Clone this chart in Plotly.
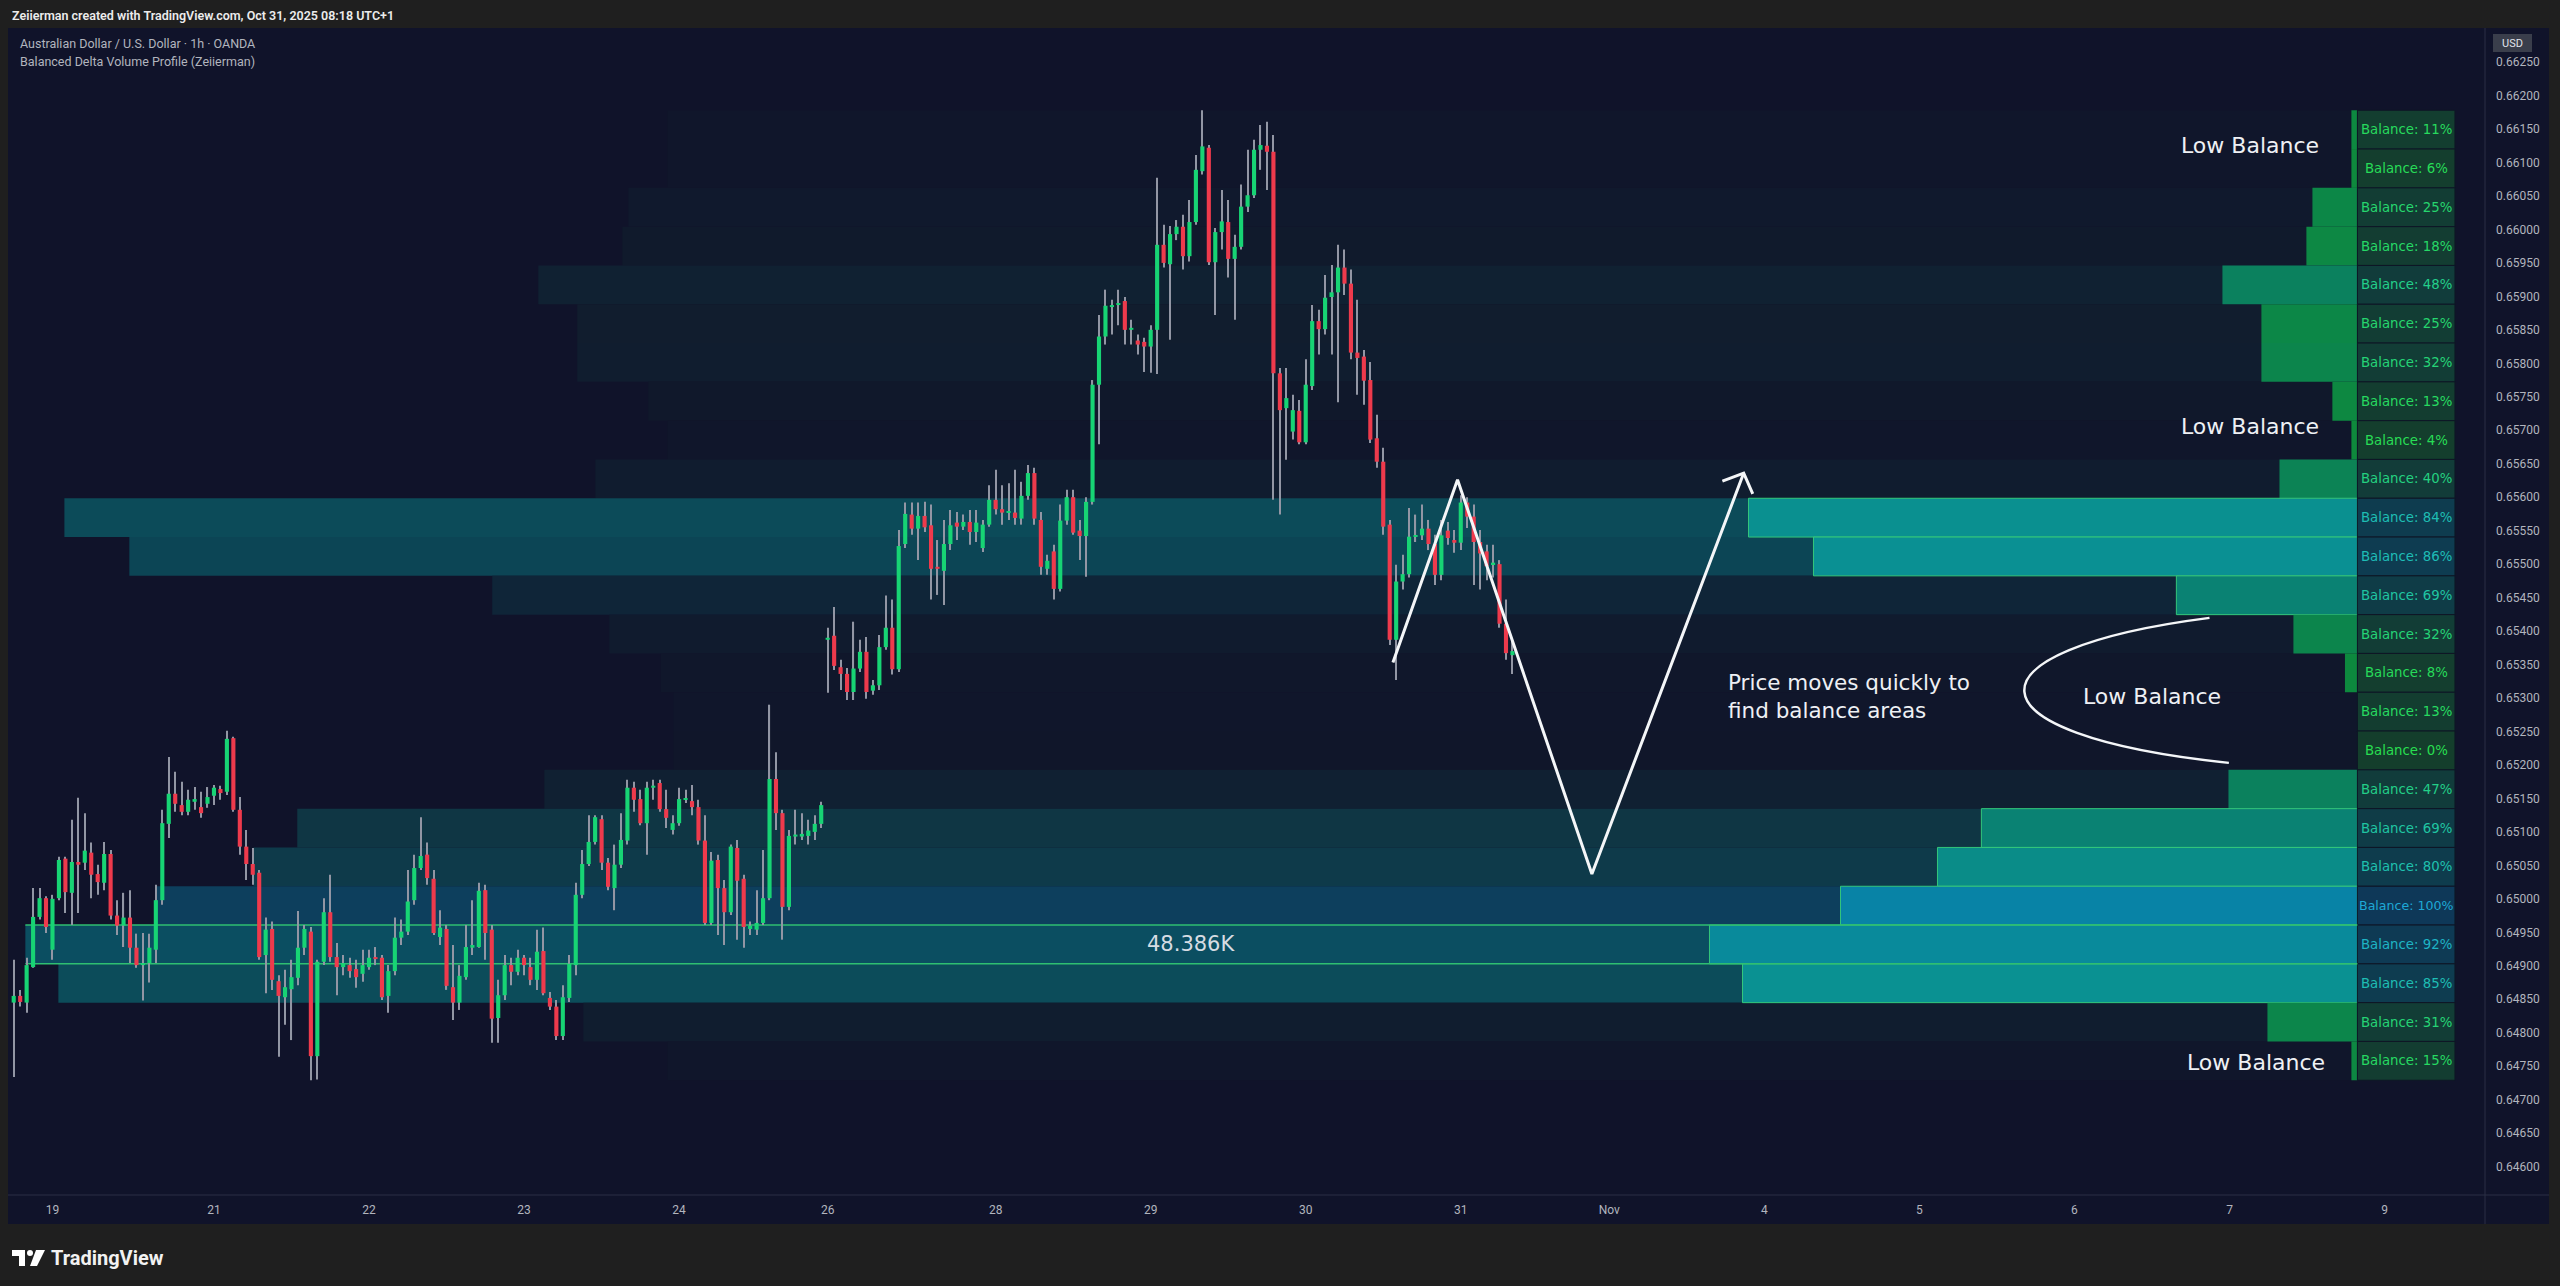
import plotly.graph_objects as go

# ---------------- DATA (AUD/USD 1h) ----------------
opens = [
    0.64845, 0.64855, 0.64845, 0.64898, 0.64973, 0.65001, 0.64924, 0.65001, 0.65060, 0.65009,
    0.65055, 0.65054, 0.65069, 0.65037, 0.65024, 0.65067, 0.64975, 0.64960, 0.64972, 0.64927,
    0.64901, 0.64904, 0.64924, 0.64998, 0.65112, 0.65157, 0.65140, 0.65130, 0.65145, 0.65137,
    0.65142, 0.65154, 0.65164, 0.65160, 0.65240, 0.65133, 0.65078, 0.65052, 0.65039, 0.64916,
    0.64955, 0.64877, 0.64853, 0.64865, 0.64882, 0.64927, 0.64951, 0.64765, 0.64906, 0.64980,
    0.64913, 0.64898, 0.64901, 0.64895, 0.64888, 0.64898, 0.64913, 0.64912, 0.64855, 0.64892,
    0.64942, 0.64951, 0.64998, 0.65046, 0.65066, 0.65030, 0.64943, 0.64955, 0.64868, 0.64845,
    0.64883, 0.64927, 0.64928, 0.65013, 0.64954, 0.64822, 0.64856, 0.64901, 0.64891, 0.64912,
    0.64898, 0.64879, 0.64922, 0.64852, 0.64839, 0.64795, 0.64852, 0.64901, 0.65006, 0.65052,
    0.65085, 0.65119, 0.65054, 0.65016, 0.65051, 0.65087, 0.65166, 0.65149, 0.65113, 0.65166,
    0.65173, 0.65134, 0.65103, 0.65113, 0.65148, 0.65146, 0.65137, 0.65087, 0.64964, 0.65058,
    0.65016, 0.64980, 0.65076, 0.65030, 0.64955, 0.64954, 0.64964, 0.65001, 0.65179, 0.65128,
    0.64988, 0.65093, 0.65093, 0.65094, 0.65100, 0.65112,
    0.65387, 0.65393, 0.65346, 0.65336, 0.65309, 0.65344, 0.65369, 0.65311, 0.65319, 0.65376,
    0.65405, 0.65343, 0.65530, 0.65574, 0.65553, 0.65572, 0.65558, 0.65496, 0.65490, 0.65530,
    0.65562, 0.65556, 0.65563, 0.65548, 0.65524, 0.65559, 0.65596, 0.65582, 0.65577, 0.65577,
    0.65568, 0.65602, 0.65636, 0.65566, 0.65493, 0.65519, 0.65463, 0.65565, 0.65600, 0.65550,
    0.65542, 0.65593, 0.65768, 0.65840, 0.65884, 0.65887, 0.65893, 0.65850, 0.65834, 0.65832,
    0.65825, 0.65850, 0.65977, 0.65948, 0.65993, 0.66004, 0.65960, 0.66011, 0.66087, 0.66122,
    0.65951, 0.65996, 0.66011, 0.65956, 0.65974, 0.66034, 0.66051, 0.66119, 0.66125, 0.66116,
    0.65785, 0.65733, 0.65698, 0.65729, 0.65682, 0.65766, 0.65863, 0.65851, 0.65899, 0.65906,
    0.65943, 0.65919, 0.65816, 0.65810, 0.65775, 0.65688, 0.65653, 0.65559, 0.65387, 0.65474,
    0.65485, 0.65541, 0.65543, 0.65553, 0.65530, 0.65484, 0.65550, 0.65536, 0.65532, 0.65592,
    0.65571, 0.65533, 0.65519, 0.65500, 0.65500, 0.65411, 0.65364,
]
highs = [
    0.64909, 0.64864, 0.64912, 0.65016, 0.65016, 0.65004, 0.65006, 0.65063, 0.65063, 0.65118,
    0.65151, 0.65128, 0.65084, 0.65051, 0.65085, 0.65073, 0.64998, 0.65009, 0.65013, 0.64948,
    0.64949, 0.64948, 0.65021, 0.65133, 0.65212, 0.65190, 0.65175, 0.65163, 0.65167, 0.65160,
    0.65167, 0.65170, 0.65169, 0.65251, 0.65242, 0.65152, 0.65103, 0.65076, 0.65043, 0.64972,
    0.64966, 0.64886, 0.64894, 0.64909, 0.64982, 0.64961, 0.64958, 0.64909, 0.65001, 0.65036,
    0.64934, 0.64916, 0.64912, 0.64909, 0.64924, 0.64924, 0.64928, 0.64916, 0.64901, 0.64972,
    0.64969, 0.65043, 0.65066, 0.65122, 0.65084, 0.65043, 0.64983, 0.64961, 0.64931, 0.64901,
    0.64961, 0.64998, 0.65024, 0.65021, 0.64961, 0.64879, 0.64916, 0.64912, 0.64924, 0.64916,
    0.64912, 0.64954, 0.64957, 0.64861, 0.64849, 0.64871, 0.64916, 0.65024, 0.65073, 0.65125,
    0.65125, 0.65125, 0.65061, 0.65081, 0.65128, 0.65178, 0.65175, 0.65163, 0.65175, 0.65178,
    0.65178, 0.65163, 0.65125, 0.65166, 0.65163, 0.65170, 0.65148, 0.65125, 0.65070, 0.65066,
    0.65028, 0.65081, 0.65088, 0.65036, 0.64966, 0.65013, 0.65073, 0.65290, 0.65219, 0.65133,
    0.65103, 0.65133, 0.65128, 0.65118, 0.65125, 0.65145,
    0.65405, 0.65436, 0.65357, 0.65345, 0.65414, 0.65387, 0.65391, 0.65327, 0.65394, 0.65453,
    0.65447, 0.65551, 0.65592, 0.65592, 0.65592, 0.65593, 0.65589, 0.65536, 0.65566, 0.65581,
    0.65578, 0.65574, 0.65581, 0.65581, 0.65566, 0.65618, 0.65641, 0.65618, 0.65621, 0.65641,
    0.65623, 0.65648, 0.65644, 0.65578, 0.65514, 0.65529, 0.65589, 0.65611, 0.65611, 0.65566,
    0.65600, 0.65775, 0.65872, 0.65910, 0.65895, 0.65910, 0.65899, 0.65865, 0.65843, 0.65838,
    0.65857, 0.66077, 0.66007, 0.66005, 0.66014, 0.66022, 0.66044, 0.66111, 0.66178, 0.66126,
    0.66002, 0.66059, 0.66044, 0.65992, 0.66067, 0.66119, 0.66134, 0.66156, 0.66161, 0.66141,
    0.65793, 0.65793, 0.65753, 0.65745, 0.65806, 0.65887, 0.65880, 0.65932, 0.65947, 0.65977,
    0.65970, 0.65940, 0.65895, 0.65820, 0.65802, 0.65723, 0.65674, 0.65566, 0.65499, 0.65514,
    0.65584, 0.65574, 0.65589, 0.65566, 0.65544, 0.65566, 0.65563, 0.65551, 0.65603, 0.65600,
    0.65589, 0.65551, 0.65529, 0.65529, 0.65506, 0.65447, 0.65387,
]
lows = [
    0.64734, 0.64839, 0.64830, 0.64897, 0.64969, 0.64949, 0.64909, 0.64998, 0.64979, 0.64961,
    0.64979, 0.65043, 0.65001, 0.65006, 0.65013, 0.64969, 0.64946, 0.64928, 0.64904, 0.64897,
    0.64848, 0.64875, 0.64904, 0.64991, 0.65091, 0.65130, 0.65125, 0.65125, 0.65133, 0.65121,
    0.65136, 0.65140, 0.65148, 0.65155, 0.65130, 0.65066, 0.65028, 0.65021, 0.64909, 0.64859,
    0.64864, 0.64764, 0.64812, 0.64789, 0.64871, 0.64916, 0.64729, 0.64730, 0.64901, 0.64906,
    0.64856, 0.64886, 0.64882, 0.64867, 0.64876, 0.64894, 0.64901, 0.64849, 0.64830, 0.64886,
    0.64931, 0.64946, 0.64991, 0.65043, 0.65021, 0.64946, 0.64931, 0.64864, 0.64819, 0.64834,
    0.64879, 0.64916, 0.64927, 0.64909, 0.64785, 0.64785, 0.64849, 0.64871, 0.64886, 0.64886,
    0.64871, 0.64864, 0.64856, 0.64834, 0.64789, 0.64789, 0.64846, 0.64886, 0.65001, 0.65049,
    0.65081, 0.65043, 0.65013, 0.64983, 0.65046, 0.65081, 0.65130, 0.65110, 0.65066, 0.65148,
    0.65130, 0.65106, 0.65096, 0.65109, 0.65143, 0.65125, 0.65081, 0.64961, 0.64961, 0.64946,
    0.64931, 0.64976, 0.64939, 0.64927, 0.64946, 0.64946, 0.64961, 0.64998, 0.65103, 0.64939,
    0.64983, 0.65081, 0.65088, 0.65081, 0.65088, 0.65106,
    0.65308, 0.65342, 0.65312, 0.65297, 0.65297, 0.65339, 0.65299, 0.65305, 0.65312, 0.65372,
    0.65335, 0.65339, 0.65524, 0.65544, 0.65506, 0.65548, 0.65447, 0.65454, 0.65439, 0.65521,
    0.65536, 0.65551, 0.65529, 0.65533, 0.65518, 0.65556, 0.65574, 0.65559, 0.65566, 0.65559,
    0.65559, 0.65596, 0.65559, 0.65484, 0.65484, 0.65447, 0.65459, 0.65559, 0.65544, 0.65506,
    0.65481, 0.65589, 0.65679, 0.65828, 0.65843, 0.65857, 0.65828, 0.65828, 0.65813, 0.65787,
    0.65786, 0.65784, 0.65943, 0.65835, 0.65984, 0.65940, 0.65952, 0.66007, 0.66082, 0.65947,
    0.65872, 0.65970, 0.65928, 0.65865, 0.65970, 0.66026, 0.66047, 0.66089, 0.66059, 0.65596,
    0.65574, 0.65656, 0.65686, 0.65679, 0.65679, 0.65760, 0.65813, 0.65843, 0.65813, 0.65742,
    0.65902, 0.65806, 0.65753, 0.65738, 0.65681, 0.65644, 0.65544, 0.65379, 0.65327, 0.65462,
    0.65480, 0.65533, 0.65536, 0.65521, 0.65469, 0.65476, 0.65529, 0.65517, 0.65521, 0.65554,
    0.65469, 0.65462, 0.65476, 0.65480, 0.65405, 0.65357, 0.65336,
]
closes = [
    0.64855, 0.64846, 0.64901, 0.64973, 0.65001, 0.64958, 0.65000, 0.65058, 0.65010, 0.65055,
    0.65051, 0.65072, 0.65036, 0.65025, 0.65067, 0.64975, 0.64960, 0.64972, 0.64927, 0.64901,
    0.64904, 0.64927, 0.64998, 0.65113, 0.65157, 0.65142, 0.65130, 0.65148, 0.65149, 0.65128,
    0.65152, 0.65166, 0.65158, 0.65239, 0.65133, 0.65078, 0.65052, 0.65036, 0.64913, 0.64954,
    0.64879, 0.64855, 0.64868, 0.64883, 0.64927, 0.64955, 0.64765, 0.64906, 0.64980, 0.64913,
    0.64898, 0.64904, 0.64892, 0.64883, 0.64901, 0.64912, 0.64910, 0.64853, 0.64892, 0.64942,
    0.64951, 0.64996, 0.65046, 0.65064, 0.65031, 0.64949, 0.64957, 0.64870, 0.64845, 0.64885,
    0.64928, 0.64931, 0.65012, 0.64949, 0.64821, 0.64856, 0.64901, 0.64891, 0.64912, 0.64901,
    0.64879, 0.64921, 0.64859, 0.64839, 0.64795, 0.64853, 0.64903, 0.65006, 0.65052, 0.65085,
    0.65122, 0.65054, 0.65018, 0.65051, 0.65088, 0.65166, 0.65148, 0.65113, 0.65166, 0.65169,
    0.65134, 0.65121, 0.65113, 0.65149, 0.65149, 0.65137, 0.65087, 0.64964, 0.65057, 0.65016,
    0.64980, 0.65078, 0.65027, 0.64958, 0.64960, 0.64964, 0.65001, 0.65179, 0.65128, 0.64988,
    0.65094, 0.65096, 0.65097, 0.65102, 0.65112, 0.65140,
    0.65390, 0.65348, 0.65336, 0.65309, 0.65344, 0.65369, 0.65309, 0.65319, 0.65376, 0.65405,
    0.65343, 0.65527, 0.65575, 0.65553, 0.65572, 0.65555, 0.65493, 0.65493, 0.65530, 0.65558,
    0.65556, 0.65563, 0.65548, 0.65562, 0.65559, 0.65596, 0.65582, 0.65577, 0.65578, 0.65569,
    0.65602, 0.65636, 0.65568, 0.65496, 0.65505, 0.65463, 0.65565, 0.65600, 0.65547, 0.65542,
    0.65593, 0.65768, 0.65840, 0.65886, 0.65887, 0.65890, 0.65850, 0.65853, 0.65828, 0.65825,
    0.65850, 0.65977, 0.65950, 0.65993, 0.66004, 0.65960, 0.66011, 0.66089, 0.66124, 0.65951,
    0.65996, 0.66012, 0.65956, 0.65974, 0.66034, 0.66051, 0.66119, 0.66126, 0.66116, 0.65785,
    0.65730, 0.65748, 0.65730, 0.65682, 0.65768, 0.65863, 0.65851, 0.65898, 0.65906, 0.65943,
    0.65919, 0.65816, 0.65808, 0.65774, 0.65686, 0.65653, 0.65556, 0.65387, 0.65474, 0.65485,
    0.65541, 0.65543, 0.65553, 0.65530, 0.65484, 0.65543, 0.65539, 0.65532, 0.65592, 0.65571,
    0.65533, 0.65516, 0.65497, 0.65501, 0.65411, 0.65367, 0.65370,
]

# x-axis (bar index) day labels
day_tick_bars = [6, 31, 55, 79, 103, 126, 152, 176, 200, 224, 247, 271, 295, 319, 343, 367]
day_tick_labels = ["19", "21", "22", "23", "24", "26", "28", "29", "30", "31", "Nov", "4", "5", "6", "7", "9"]

# price scale labels
price_tick_labels = [
    "0.64600", "0.64650", "0.64700", "0.64750", "0.64800", "0.64850", "0.64900", "0.64950",
    "0.65000", "0.65050", "0.65100", "0.65150", "0.65200", "0.65250", "0.65300", "0.65350",
    "0.65400", "0.65450", "0.65500", "0.65550", "0.65600", "0.65650", "0.65700", "0.65750",
    "0.65800", "0.65850", "0.65900", "0.65950", "0.66000", "0.66050", "0.66100", "0.66150",
    "0.66200", "0.66250",
]

# Balanced delta volume profile rows (top -> bottom)
row_balance = [11, 6, 25, 18, 48, 25, 32, 13, 4, 40, 84, 86, 69, 32, 8, 13, 0, 47, 69, 80, 100, 92, 85, 31, 15]
row_volume_k = [0.45, 0.45, 3.36, 3.81, 10.08, 7.17, 7.17, 1.87, 0.45, 5.82, 45.47, 40.62, 13.52, 4.78,
                0.93, 0.0, 0.0, 9.63, 28.08, 31.36, 38.60, 48.386, 45.92, 6.72, 0.45]

# hand-drawn annotations (bar index, price)
zigzag_bars = [213.5, 223.5, 244.3, 267.8]
zigzag_prices = [0.65353, 0.65626, 0.65037, 0.65636]
arrowhead_bars = [264.5, 267.8, 269.2]
arrowhead_prices = [0.65624, 0.65636, 0.65605]
bracket_bars = [339.9, 301.2, 301.2, 342.9]
bracket_prices = [0.654197, 0.653719, 0.652449, 0.652031]
low_balance_bars = [346.1, 346.1, 331.0, 347.1]
low_balance_prices = [0.66126, 0.65706, 0.65303, 0.64755]
note_bar, note_price = 265.0, 0.65303
note_text = "Price moves quickly to<br>find balance areas"

# ---------------- STYLE / LAYOUT ----------------
W, H = 2560, 1286
PL, PR, PT, PB = 9, 2485, 28, 1195
X_RANGE = [-0.73, 382.55]
Y_RANGE = [0.6455758, 0.6630088]
PROF_RIGHT = 362.8      # right edge of histogram (bar units)
HIST_LEN = 100.3        # length of the largest histogram bar
BOX_OFFSET = 260.7      # background box extends this much further left
LABEL_RIGHT = 377.9

NAVY = "#10132a"
GRAY = "#1f1f1f"
UP = "#17d474"
DN = "#ee3a4c"
WICK = "#9296a4"
AXIS_TXT = "#b2b5be"
SEP = "#2a2e44"


def px2x(px):
    return (px - PL) / (PR - PL)


def py2y(py):
    return (PB - py) / (PB - PT)


def mix(stops, t):
    t = max(0.0, min(1.0, t))
    for (t0, c0), (t1, c1) in zip(stops[:-1], stops[1:]):
        if t <= t1:
            f = 0.0 if t1 == t0 else (t - t0) / (t1 - t0)
            return tuple(c0[i] + (c1[i] - c0[i]) * f for i in range(3))
    return stops[-1][1]


def rgb(c):
    return "rgb(%d,%d,%d)" % tuple(int(round(v)) for v in c)


HIST_STOPS = [(0.0, (14, 138, 58)), (0.3, (12, 134, 74)), (0.5, (11, 128, 96)),
              (0.7, (10, 130, 116)), (0.85, (10, 145, 146)), (1.0, (8, 131, 166))]
LABEL_BG_STOPS = [(0.0, (20, 62, 44)), (0.5, (17, 60, 60)), (0.85, (14, 60, 80)), (1.0, (14, 56, 88))]
LABEL_TXT_STOPS = [(0.0, (40, 222, 80)), (0.5, (35, 206, 140)), (0.85, (30, 190, 180)), (1.0, (30, 168, 214))]
BOX_TARGET_STOPS = [(0.0, (22, 70, 52)), (0.5, (16, 78, 78)), (0.9, (11, 82, 98)), (1.0, (12, 76, 108))]
NAVY_RGB = (16, 19, 42)

fig = go.Figure()

n = len(opens)
idx = list(range(n))
body_base = [min(o, c) for o, c in zip(opens, closes)]
body_h = [max(abs(c - o), 0.000022) for o, c in zip(opens, closes)]
wick_h = [h - l for h, l in zip(highs, lows)]
body_col = [UP if c >= o else DN for o, c in zip(opens, closes)]

fig.add_trace(go.Bar(x=idx, y=wick_h, base=lows, width=0.17,
                     marker=dict(color=WICK, line=dict(width=0)), hoverinfo="skip"))
fig.add_trace(go.Bar(x=idx, y=body_h, base=body_base, width=0.64,
                     marker=dict(color=body_col, line=dict(width=0)), hoverinfo="skip"))

# zigzag + arrow
fig.add_trace(go.Scatter(x=zigzag_bars, y=zigzag_prices, mode="lines",
                         line=dict(color="#f4f6f8", width=3), hoverinfo="skip"))
fig.add_trace(go.Scatter(x=arrowhead_bars, y=arrowhead_prices, mode="lines",
                         line=dict(color="#f4f6f8", width=3), hoverinfo="skip"))

shapes = []
annotations = []

# ---- profile ----
p_top, p_bot = max(highs), min(lows)
n_rows = len(row_balance)
row_h = (p_top - p_bot) / n_rows
vmax = max(row_volume_k)
poc = row_volume_k.index(vmax)

boxes, bars, labels, extra = [], [], [], []
for k in range(n_rows):
    y1 = p_top - k * row_h
    y0 = y1 - row_h
    frac = row_volume_k[k] / vmax
    b = row_balance[k] / 100.0
    bar_left = PROF_RIGHT - frac * HIST_LEN
    box_left = bar_left - BOX_OFFSET
    t = 0.05 + 0.9 * frac
    tgt = mix(BOX_TARGET_STOPS, b)
    box_col = tuple(NAVY_RGB[i] + (tgt[i] - NAVY_RGB[i]) * t for i in range(3))
    boxes.append(dict(type="rect", xref="x", yref="y", x0=box_left, x1=PROF_RIGHT, y0=y0, y1=y1,
                      fillcolor=rgb(box_col), line=dict(width=0), layer="below"))
    if frac > 0:
        outline = dict(color="#34c77b", width=1) if b >= 0.6 else dict(width=0)
        bars.append(dict(type="rect", xref="x", yref="y", x0=bar_left, x1=PROF_RIGHT, y0=y0, y1=y1,
                         fillcolor=rgb(mix(HIST_STOPS, b)), line=outline, layer="below"))
    labels.append(dict(type="rect", xref="x", yref="y", x0=PROF_RIGHT, x1=LABEL_RIGHT, y0=y0, y1=y1,
                       fillcolor=rgb(mix(LABEL_BG_STOPS, b)), line=dict(color="#0e1626", width=1),
                       layer="below"))
    label_size = 12.6 if row_balance[k] >= 100 else 13.3
    annotations.append(dict(x=(PROF_RIGHT + LABEL_RIGHT) / 2, y=(y0 + y1) / 2, xref="x", yref="y",
                            xanchor="center", yanchor="middle",
                            text="Balance: %d%%" % row_balance[k], showarrow=False,
                            font=dict(family="DejaVu Sans", size=label_size,
                                      color=rgb(mix(LABEL_TXT_STOPS, b)))))
    if k == poc:
        for yy in (y0, y1):
            extra.append(dict(type="line", xref="x", yref="y", x0=box_left, x1=PROF_RIGHT, y0=yy, y1=yy,
                              line=dict(color="#2fbf71", width=1.5), layer="below"))
        annotations.append(dict(x=(box_left + PROF_RIGHT) / 2, y=(y0 + y1) / 2, xref="x", yref="y",
                                xanchor="center", yanchor="middle",
                                text="%.3fK" % vmax, showarrow=False,
                                font=dict(family="DejaVu Sans", size=21, color="#d6dce3")))

shapes += boxes + bars + labels + extra

# curved bracket
path = "M %f,%f C %f,%f %f,%f %f,%f" % (bracket_bars[0], bracket_prices[0], bracket_bars[1], bracket_prices[1],
                                        bracket_bars[2], bracket_prices[2], bracket_bars[3], bracket_prices[3])
shapes.append(dict(type="path", xref="x", yref="y", path=path, line=dict(color="#f4f6f8", width=2.5),
                   layer="above"))

# text notes
for bx, by in zip(low_balance_bars, low_balance_prices):
    annotations.append(dict(x=bx, y=by, xref="x", yref="y", xanchor="center", yanchor="middle",
                            text="Low Balance", showarrow=False,
                            font=dict(family="DejaVu Sans", size=22, color="#eef0f4")))
annotations.append(dict(x=note_bar, y=note_price, xref="x", yref="y", text=note_text, showarrow=False,
                        xanchor="left", yanchor="middle", align="left",
                        font=dict(family="DejaVu Sans", size=21.5, color="#eef0f4")))

# ---- frame decoration (paper coords) ----
shapes.append(dict(type="rect", xref="paper", yref="paper", x0=px2x(0), x1=px2x(W), y0=py2y(28), y1=py2y(0),
                   fillcolor=GRAY, line=dict(width=0), layer="below"))
shapes.append(dict(type="rect", xref="paper", yref="paper", x0=px2x(0), x1=px2x(W), y0=py2y(H), y1=py2y(1224),
                   fillcolor=GRAY, line=dict(width=0), layer="below"))
shapes.append(dict(type="rect", xref="paper", yref="paper", x0=px2x(0), x1=px2x(8), y0=py2y(H), y1=py2y(0),
                   fillcolor=GRAY, line=dict(width=0), layer="below"))
shapes.append(dict(type="rect", xref="paper", yref="paper", x0=px2x(2549), x1=px2x(W), y0=py2y(H), y1=py2y(0),
                   fillcolor=GRAY, line=dict(width=0), layer="below"))
shapes.append(dict(type="line", xref="paper", yref="paper", x0=1, x1=1, y0=py2y(1224), y1=py2y(28),
                   line=dict(color=SEP, width=1), layer="above"))
shapes.append(dict(type="line", xref="paper", yref="paper", x0=px2x(8), x1=px2x(2549), y0=0, y1=0,
                   line=dict(color=SEP, width=1), layer="above"))
# USD badge
shapes.append(dict(type="rect", xref="paper", yref="paper", x0=px2x(2493), x1=px2x(2532),
                   y0=py2y(52), y1=py2y(34), fillcolor="#3a3e4b", line=dict(width=0), layer="above"))
annotations.append(dict(x=px2x(2512.5), y=py2y(43), xref="paper", yref="paper", xanchor="center",
                        yanchor="middle", text="USD", showarrow=False,
                        font=dict(family="Roboto", size=11, color="#e0e3eb")))
# TradingView logo glyph
shapes.append(dict(type="rect", xref="paper", yref="paper", x0=px2x(12), x1=px2x(25), y0=py2y(1256),
                   y1=py2y(1250), fillcolor="white", line=dict(width=0), layer="above"))
shapes.append(dict(type="rect", xref="paper", yref="paper", x0=px2x(19), x1=px2x(25), y0=py2y(1266),
                   y1=py2y(1250), fillcolor="white", line=dict(width=0), layer="above"))
shapes.append(dict(type="circle", xref="paper", yref="paper", x0=px2x(27), x1=px2x(33), y0=py2y(1256),
                   y1=py2y(1250), fillcolor="white", line=dict(width=0), layer="above"))
shapes.append(dict(type="path", xref="paper", yref="paper",
                   path="M %f,%f L %f,%f L %f,%f L %f,%f Z" % (px2x(36), py2y(1250), px2x(45), py2y(1250),
                                                           px2x(37), py2y(1266), px2x(30), py2y(1266)),
                   fillcolor="white", line=dict(width=0), layer="above"))

annotations.append(dict(x=px2x(10), y=py2y(15), xref="paper", yref="paper", xanchor="left", yanchor="middle",
                        text="Zeiierman created with TradingView.com, Oct 31, 2025 08:18 UTC+1", showarrow=False,
                        font=dict(family="Roboto", size=12.5, color="#ececec", weight=600)))
annotations.append(dict(x=px2x(18), y=py2y(44), xref="paper", yref="paper", xanchor="left", yanchor="middle",
                        text="Australian Dollar / U.S. Dollar · 1h · OANDA", showarrow=False,
                        font=dict(family="Roboto", size=12.5, color=AXIS_TXT)))
annotations.append(dict(x=px2x(18), y=py2y(62), xref="paper", yref="paper", xanchor="left", yanchor="middle",
                        text="Balanced Delta Volume Profile (Zeiierman)", showarrow=False,
                        font=dict(family="Roboto", size=12.5, color=AXIS_TXT)))
annotations.append(dict(x=px2x(49), y=py2y(1258), xref="paper", yref="paper", xanchor="left", yanchor="middle",
                        text="<b>TradingView</b>", showarrow=False,
                        font=dict(family="Roboto", size=20, color="#f2f2f2")))

fig.update_layout(
    width=W, height=H,
    margin=dict(l=PL, r=W - PR, t=PT, b=H - PB, pad=0),
    paper_bgcolor=NAVY, plot_bgcolor=NAVY,
    showlegend=False, barmode="overlay", hovermode=False,
    xaxis=dict(range=X_RANGE, tickmode="array", tickvals=day_tick_bars, ticktext=day_tick_labels,
               showgrid=False, zeroline=False, showline=False, ticks="",
               tickfont=dict(family="Roboto", size=12, color=AXIS_TXT), ticklabelstandoff=6,
               fixedrange=True),
    yaxis=dict(range=Y_RANGE, side="right", tickmode="array",
               tickvals=[float(s) for s in price_tick_labels], ticktext=price_tick_labels,
               showgrid=False, zeroline=False, showline=False, ticks="",
               tickfont=dict(family="Roboto", size=12, color=AXIS_TXT), ticklabelstandoff=10,
               fixedrange=True),
    shapes=shapes,
    annotations=annotations,
)

fig.write_html("out.html")
